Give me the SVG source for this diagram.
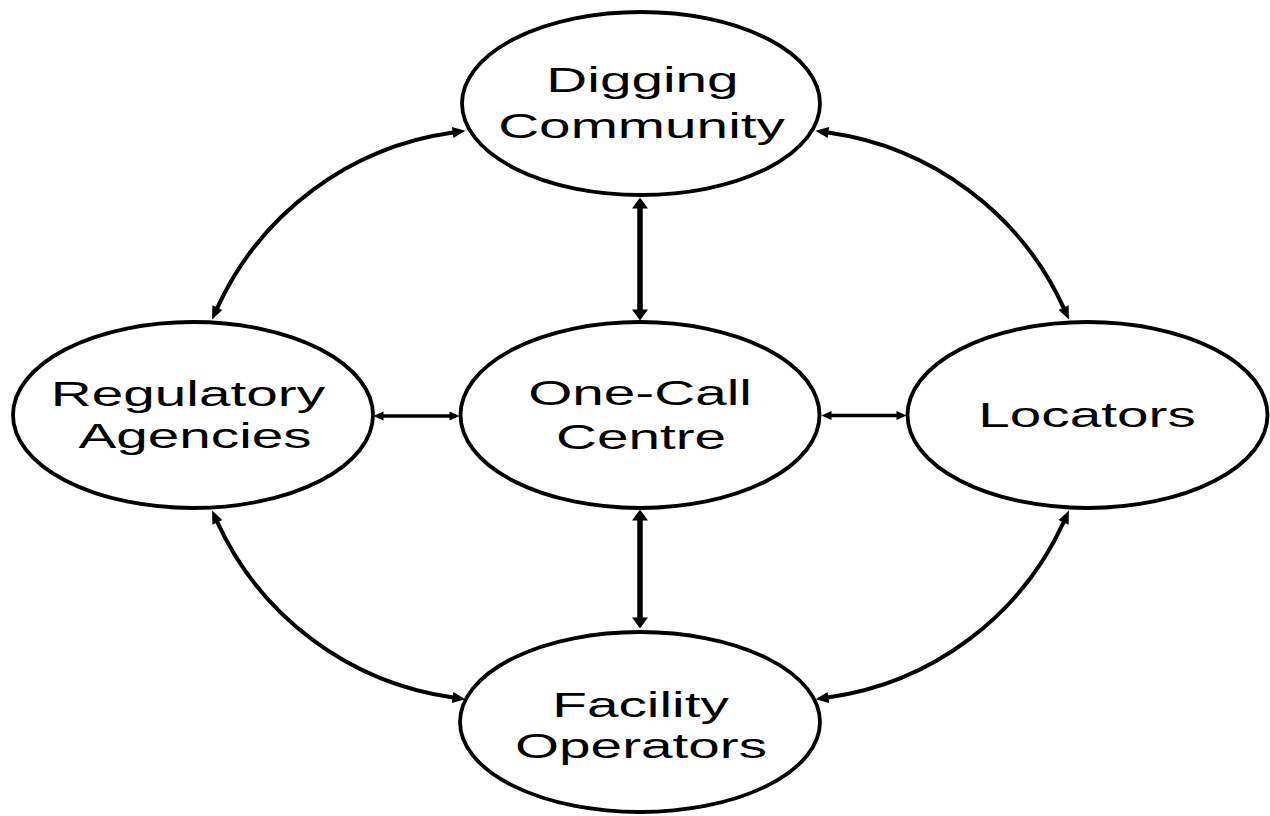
<svg xmlns="http://www.w3.org/2000/svg" width="1270" height="816" viewBox="0 0 1270 816">
<style>
.node ellipse{fill:#fff;stroke:#000;stroke-width:3.8}
.node text{font-family:"Liberation Sans",Arial,sans-serif;font-size:35px;fill:#000;text-anchor:middle}
.conn path{fill:none;stroke:#000}
.curve{stroke-width:4}
.vert{stroke-width:5.5}
.horz{stroke-width:3.4}
</style>
<defs>
<marker id="hc" markerUnits="userSpaceOnUse" markerWidth="16" markerHeight="12" refX="0.5" refY="5.5" orient="auto-start-reverse" overflow="visible"><path d="M0,0 L13,5.5 L0,11 z" fill="#000"/></marker>
<marker id="hv" markerUnits="userSpaceOnUse" markerWidth="14" markerHeight="16" refX="0.5" refY="8" orient="auto-start-reverse" overflow="visible"><path d="M0,0 L11,8 L0,16 z" fill="#000"/></marker>
<marker id="hh" markerUnits="userSpaceOnUse" markerWidth="12" markerHeight="10" refX="0.5" refY="4.5" orient="auto-start-reverse" overflow="visible"><path d="M0,0 L10,4.5 L0,9 z" fill="#000"/></marker>
</defs>
<rect width="1270" height="816" fill="#fff"/>
<g id="connectors" class="conn">
<path class="curve" d="M217.2 308.1 A305.8 305.8 0 0 1 453.1 132.5" marker-start="url(#hc)" marker-end="url(#hc)"/>
<path class="curve" d="M1063.8 308.1 A305.8 305.8 0 0 0 827.9 132.5" marker-start="url(#hc)" marker-end="url(#hc)"/>
<path class="curve" d="M217.2 521.9 A305.8 305.8 0 0 0 453.1 697.5" marker-start="url(#hc)" marker-end="url(#hc)"/>
<path class="curve" d="M1063.8 521.9 A305.8 305.8 0 0 1 827.9 697.5" marker-start="url(#hc)" marker-end="url(#hc)"/>
<path class="vert" d="M640 208 L640 310" marker-start="url(#hv)" marker-end="url(#hv)"/>
<path class="vert" d="M640 520 L640 618" marker-start="url(#hv)" marker-end="url(#hv)"/>
<path class="horz" d="M383 416 L450 416" marker-start="url(#hh)" marker-end="url(#hh)"/>
<path class="horz" d="M831 415.5 L897 415.5" marker-start="url(#hh)" marker-end="url(#hh)"/>
</g>
<g id="digging" class="node">
<ellipse cx="641" cy="103.5" rx="179" ry="91.5"/>
<text transform="scale(1.62,1)" x="396.6" y="92">Digging</text>
<text transform="scale(1.62,1)" x="396" y="138">Community</text>
</g>
<g id="onecall" class="node">
<ellipse cx="640" cy="415" rx="179.5" ry="93"/>
<text transform="scale(1.62,1)" x="395.1" y="405">One-Call</text>
<text transform="scale(1.62,1)" x="395.7" y="449">Centre</text>
</g>
<g id="regulatory" class="node">
<ellipse cx="193" cy="415" rx="180" ry="93"/>
<text transform="scale(1.62,1)" x="116" y="406">Regulatory</text>
<text transform="scale(1.62,1)" x="120.4" y="448">Agencies</text>
</g>
<g id="locators" class="node">
<ellipse cx="1087.5" cy="415" rx="180" ry="93"/>
<text transform="scale(1.62,1)" x="671" y="427">Locators</text>
</g>
<g id="facility" class="node">
<ellipse cx="640" cy="722" rx="180" ry="90"/>
<text transform="scale(1.62,1)" x="395.4" y="717">Facility</text>
<text transform="scale(1.62,1)" x="395.7" y="758">Operators</text>
</g>
</svg>
